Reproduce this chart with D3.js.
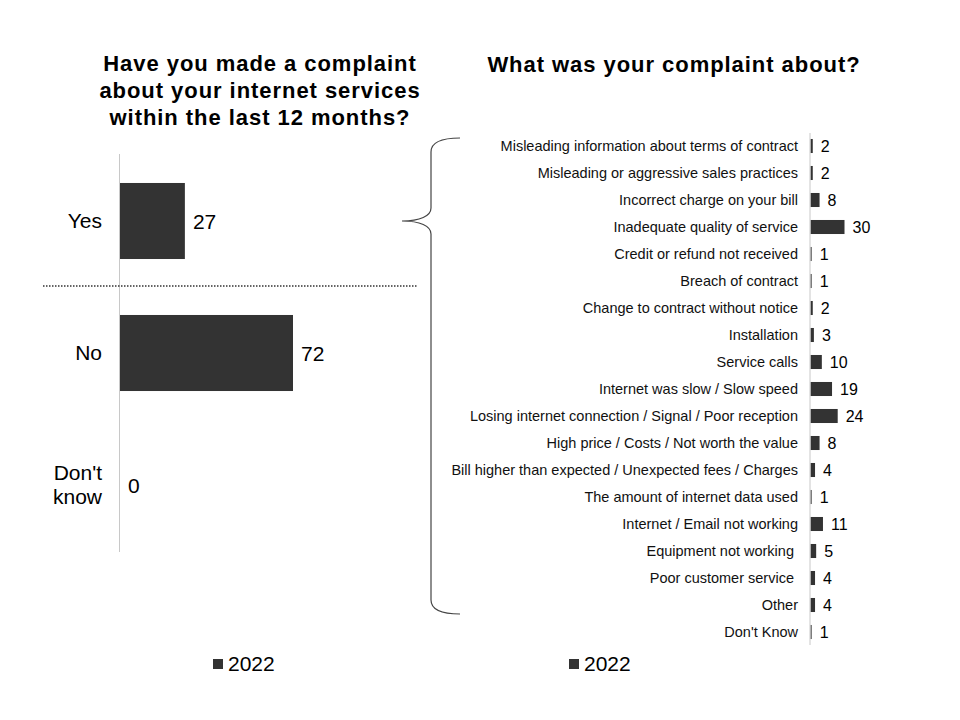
<!DOCTYPE html>
<html><head><meta charset="utf-8">
<script src="https://cdn.jsdelivr.net/npm/d3@7"></script>
<style>body{margin:0;background:#fff}text{font-family:"Liberation Sans",Arial,sans-serif;white-space:pre}</style>
</head><body>
<svg id="c" width="960" height="720"></svg>
<script>
const leftCategories = ["Yes", "No", "Don't know"];
const leftValues = [27, 72, 0];
const rightCategories = [
  "Misleading information about terms of contract",
  "Misleading or aggressive sales practices",
  "Incorrect charge on your bill",
  "Inadequate quality of service",
  "Credit or refund not received",
  "Breach of contract",
  "Change to contract without notice",
  "Installation",
  "Service calls",
  "Internet was slow / Slow speed",
  "Losing internet connection / Signal / Poor reception",
  "High price / Costs / Not worth the value",
  "Bill higher than expected / Unexpected fees / Charges",
  "The amount of internet data used",
  "Internet / Email not working",
  "Equipment not working ",
  "Poor customer service ",
  "Other",
  "Don't Know"
];
const rightValues = [2, 2, 8, 30, 1, 1, 2, 3, 10, 19, 24, 8, 4, 1, 11, 5, 4, 4, 1];
const seriesName = "2022";
const leftTitle = ["Have you made a complaint", "about your internet services", "within the last 12 months?"];
const rightTitle = "What was your complaint about?";

const barColor = "#333333";
const svg = d3.select("#c");

// ---- Left chart ----
const lx = d3.scaleLinear().domain([0, 72]).range([120, 293]);
const lpad = 0.424;
const ly = d3.scaleBand().domain(leftCategories).range([155, 551]).paddingInner(lpad).paddingOuter(lpad / 2);

svg.append("g").selectAll("text").data(leftTitle).join("text")
  .attr("x", 260).attr("y", (d, i) => 71 + i * 27)
  .attr("text-anchor", "middle").attr("font-size", 22).attr("letter-spacing", 0.95)
  .attr("font-weight", "bold").text(d => d);

svg.append("g").selectAll("rect").data(leftValues).join("rect")
  .attr("x", lx(0)).attr("y", (d, i) => ly(leftCategories[i]))
  .attr("width", d => lx(d) - lx(0)).attr("height", ly.bandwidth()).attr("fill", barColor);

svg.append("line").attr("x1", 119.5).attr("x2", 119.5).attr("y1", 154).attr("y2", 552)
  .attr("stroke", "#c8c8c8").attr("stroke-width", 1);

svg.append("g").selectAll("text").data(leftValues).join("text")
  .attr("x", d => lx(d) + 8).attr("y", (d, i) => ly(leftCategories[i]) + ly.bandwidth() / 2 + 7.5)
  .attr("font-size", 21).text(d => d);

const lcat = svg.append("g");
leftCategories.forEach(c => {
  const parts = c === "Don't know" ? ["Don't", "know"] : [c];
  const cy = ly(c) + ly.bandwidth() / 2;
  parts.forEach((p, j) => {
    lcat.append("text").attr("x", 102).attr("text-anchor", "end")
      .attr("y", cy + 7 + (j - (parts.length - 1) / 2) * 24)
      .attr("font-size", 21).text(p);
  });
});

svg.append("line").attr("x1", 43).attr("x2", 417).attr("y1", 286).attr("y2", 286)
  .attr("stroke", "#333").attr("stroke-width", 1.5).attr("stroke-dasharray", "1.5,1.5");

// ---- Right chart ----
svg.append("text").attr("x", 674).attr("y", 72).attr("text-anchor", "middle")
  .attr("font-size", 22).attr("letter-spacing", 0.95).attr("font-weight", "bold").text(rightTitle);

const rx = d3.scaleLinear().domain([0, 30]).range([810.5, 844.5]);
const rpad = 0.48;
const ry = d3.scaleBand().domain(rightCategories).range([132.5, 645.5]).paddingInner(rpad).paddingOuter(rpad / 2);

svg.append("g").selectAll("rect").data(rightValues).join("rect")
  .attr("x", rx(0)).attr("y", (d, i) => ry(rightCategories[i]))
  .attr("width", d => rx(d) - rx(0)).attr("height", ry.bandwidth()).attr("fill", barColor);

svg.append("line").attr("x1", 810).attr("x2", 810).attr("y1", 133).attr("y2", 645)
  .attr("stroke", "#c8c8c8").attr("stroke-width", 1);

svg.append("g").selectAll("text").data(rightValues).join("text")
  .attr("x", d => rx(d) + 8).attr("y", (d, i) => ry(rightCategories[i]) + ry.bandwidth() / 2 + 6)
  .attr("font-size", 16).text(d => d);

svg.append("g").selectAll("text").data(rightCategories).join("text")
  .attr("x", 798).attr("text-anchor", "end")
  .attr("y", d => ry(d) + ry.bandwidth() / 2 + 5)
  .attr("font-size", 14.5).attr("fill", "#111").text(d => d);

// ---- Brace ----
const brace = d3.path();
brace.moveTo(460, 138);
brace.bezierCurveTo(440, 138, 431, 143, 431, 152);
brace.lineTo(431, 208);
brace.bezierCurveTo(431, 216, 420, 221, 402, 221);
brace.bezierCurveTo(420, 221, 431, 226, 431, 234);
brace.lineTo(431, 600);
brace.bezierCurveTo(431, 609, 440, 614, 460, 614);
svg.append("path").attr("d", brace.toString()).attr("fill", "none")
  .attr("stroke", "#444").attr("stroke-width", 1.2);

// ---- Legends ----
[[213, 228], [569, 584]].forEach(([sx, tx]) => {
  svg.append("rect").attr("x", sx).attr("y", 659).attr("width", 10).attr("height", 10).attr("fill", barColor);
  svg.append("text").attr("x", tx).attr("y", 671).attr("font-size", 21).text(seriesName);
});
</script>
</body></html>
